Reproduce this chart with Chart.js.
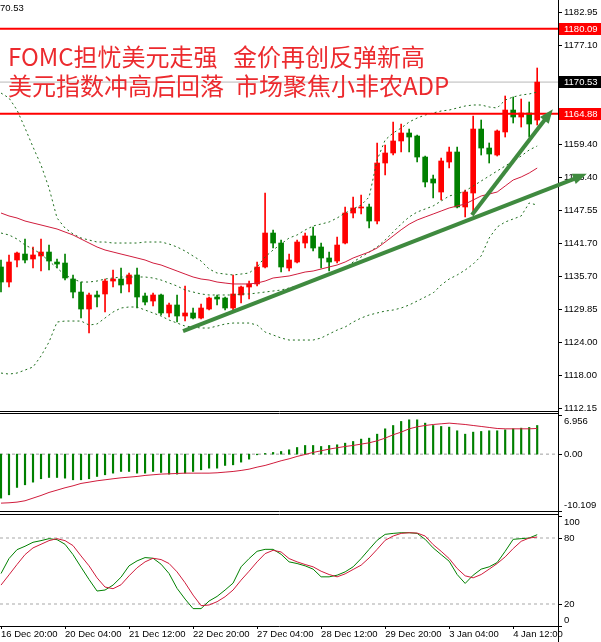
<!DOCTYPE html>
<html>
<head>
<meta charset="utf-8">
<script src="https://cdn.jsdelivr.net/npm/chart.js@4.4.1/dist/chart.umd.min.js"></script>
<style>
  html, body { margin: 0; padding: 0; background: #fff; }
  #wrap { position: relative; width: 601px; height: 642px; overflow: hidden; }
  canvas { position: absolute; left: 0; }
</style>
</head>
<body>
<div id="wrap">
  <canvas id="main" width="601" height="412" style="top:0"></canvas>
  <canvas id="macd" width="601" height="100" style="top:412px"></canvas>
  <canvas id="stoch" width="601" height="130" style="top:512px"></canvas>
</div>
<script>
// XAUUSD H4 candles, 16 Dec 20:00 .. 5 Jan 00:00
const openP = [1137.44,1134.75,1138.69,1139.76,1138.87,1139.41,1140.12,1138.33,1138.15,1135.29,
  1132.96,1129.92,1132.43,1132.61,1134.93,1135.29,1134.40,1136.01,1132.25,1131.35,
  1132.43,1129.21,1130.64,1128.67,1129.21,1128.31,1129.92,1132.07,1131.89,1130.10,
  1132.43,1133.86,1134.40,1137.44,1143.52,1141.73,1137.26,1138.33,1141.73,1142.99,
  1141.02,1139.05,1138.51,1141.73,1147.10,1148.00,1148.18,1145.67,1156.05,1157.84,
  1159.99,1161.42,1160.88,1157.12,1153.19,1150.86,1156.23,1158.02,1148.18,1150.68,
  1162.13,1158.73,1157.48,1161.60,1165.53,1164.28,1165.00,1163.74];
const highP = [1138.69,1139.59,1140.12,1142.45,1141.02,1142.45,1141.37,1138.87,1139.76,1136.01,
  1134.75,1132.78,1133.14,1135.29,1136.90,1137.26,1136.36,1137.26,1132.78,1132.78,
  1132.60,1131.00,1132.43,1134.04,1130.10,1130.82,1132.07,1132.43,1132.07,1136.01,
  1134.04,1134.93,1138.33,1150.68,1144.06,1142.27,1139.76,1142.27,1143.52,1144.60,
  1141.73,1140.12,1142.81,1148.18,1149.96,1150.32,1148.71,1159.63,1159.27,1163.39,
  1163.03,1162.13,1161.06,1157.30,1153.90,1156.94,1158.91,1158.91,1151.22,1164.46,
  1163.74,1159.63,1161.96,1168.04,1167.86,1167.50,1166.97,1173.05];
const lowP = [1132.96,1133.86,1137.44,1138.15,1137.26,1136.72,1136.90,1137.26,1135.11,1131.89,
  1128.31,1125.63,1130.28,1129.38,1133.86,1132.78,1132.96,1130.10,1130.64,1130.46,
  1128.85,1128.49,1127.59,1127.77,1128.13,1128.13,1129.74,1130.64,1129.74,1129.56,
  1131.00,1131.71,1134.04,1137.26,1140.84,1136.54,1136.72,1138.15,1140.84,1140.30,
  1137.26,1136.72,1138.15,1141.55,1146.21,1146.92,1144.42,1145.13,1153.90,1157.48,
  1158.02,1158.02,1156.23,1151.75,1149.79,1149.43,1155.15,1148.00,1146.39,1147.10,
  1157.48,1156.05,1157.30,1160.70,1163.21,1162.49,1160.70,1162.85];
const closeP = [1134.75,1138.33,1139.94,1138.69,1139.59,1140.12,1138.51,1137.97,1135.47,1132.96,
  1129.92,1132.43,1132.07,1134.93,1135.29,1134.22,1136.01,1132.07,1131.17,1132.43,
  1129.21,1130.64,1128.67,1129.21,1128.31,1130.10,1131.89,1131.71,1130.10,1132.61,
  1133.86,1134.40,1137.44,1143.52,1141.73,1137.44,1138.69,1141.91,1142.99,1140.84,
  1139.05,1138.33,1141.37,1147.10,1148.00,1148.18,1145.67,1156.05,1157.84,1159.99,
  1161.42,1160.70,1157.12,1152.65,1152.47,1156.41,1158.02,1148.18,1150.86,1162.13,
  1158.73,1157.66,1161.78,1165.53,1164.28,1165.00,1163.03,1170.53];

// Bollinger bands (dotted) and the red moving average
const bbUpper = [1168.57,1167.68,1165.53,1162.31,1158.92,1155.69,1151.58,1146.21,1144.42,1143.35,
  1142.63,1142.27,1141.91,1141.91,1141.73,1141.73,1141.73,1141.73,1141.91,1141.91,
  1141.91,1141.55,1141.02,1140.30,1139.41,1138.51,1137.08,1136.36,1136.18,1136.01,
  1136.18,1136.36,1137.44,1139.23,1140.48,1141.55,1142.63,1143.17,1144.06,1144.78,
  1145.13,1145.49,1146.21,1147.10,1147.82,1148.53,1149.96,1156.59,1160.17,1161.42,
  1162.31,1163.39,1164.10,1164.64,1165.00,1165.36,1165.53,1165.89,1166.25,1166.43,
  1166.43,1166.07,1165.89,1167.32,1167.86,1168.22,1168.40,1168.75];
const bbMiddle = [1143.52,1143.17,1142.45,1141.37,1140.66,1139.76,1138.51,1137.26,1136.01,1135.29,
  1134.75,1134.75,1134.93,1135.29,1135.47,1135.65,1135.65,1135.65,1135.65,1135.47,
  1135.11,1134.57,1134.04,1133.32,1132.96,1132.61,1132.43,1132.43,1132.43,1132.43,
  1132.61,1132.61,1132.78,1132.96,1133.14,1133.32,1133.68,1134.04,1134.57,1135.11,
  1135.47,1136.01,1136.54,1137.26,1138.33,1139.23,1140.12,1141.02,1142.27,1143.70,
  1145.13,1146.39,1147.28,1147.82,1148.36,1149.25,1150.15,1150.50,1151.04,1151.93,
  1152.83,1153.72,1154.62,1155.51,1156.41,1157.30,1158.38,1159.09];
const bbLower = [1118.46,1118.28,1118.46,1119.00,1119.54,1121.51,1124.01,1127.59,1127.77,1127.77,
  1127.77,1127.06,1127.24,1128.31,1129.38,1130.10,1130.28,1130.28,1129.74,1129.21,
  1128.67,1127.95,1127.41,1126.87,1126.70,1126.52,1126.52,1126.87,1127.24,1127.41,
  1127.41,1127.41,1127.06,1125.80,1125.27,1124.73,1124.37,1124.37,1124.37,1124.37,
  1124.73,1125.45,1126.16,1126.70,1127.59,1128.31,1128.85,1129.21,1129.56,1129.74,
  1130.10,1130.64,1131.35,1132.07,1132.78,1134.22,1135.29,1136.01,1136.90,1137.97,
  1139.41,1142.63,1144.60,1145.49,1146.03,1146.57,1148.89,1148.53];
const maRed = [1147.10,1146.57,1146.21,1145.67,1145.31,1144.96,1144.60,1144.24,1143.70,1143.17,
  1142.45,1141.73,1141.02,1140.48,1140.12,1139.76,1139.41,1139.05,1138.69,1138.15,
  1137.80,1137.26,1136.72,1136.18,1135.65,1135.29,1135.11,1134.75,1134.57,1134.40,
  1134.40,1134.40,1134.57,1134.93,1135.47,1135.65,1135.83,1136.18,1136.54,1136.72,
  1137.08,1137.44,1137.80,1138.33,1139.05,1139.59,1140.12,1140.84,1141.90,1143.00,
  1144.10,1145.10,1145.85,1146.39,1146.92,1147.46,1148.00,1148.36,1148.71,1149.43,
  1150.15,1150.50,1150.86,1151.93,1153.01,1153.55,1154.26,1155.15];

// MACD histogram + signal
const macdHist = [-7.82,-7.23,-5.92,-5.45,-4.98,-4.38,-4.15,-4.15,-4.27,-4.56,
  -4.56,-4.38,-3.97,-3.67,-3.38,-3.08,-3.08,-3.38,-3.38,-3.08,
  -3.26,-3.55,-3.55,-3.38,-3.08,-2.78,-2.49,-2.49,-2.01,-1.90,
  -1.42,-0.89,-0.12,0.12,0.30,0.47,0.77,1.18,1.54,1.54,
  1.36,1.54,1.66,1.95,2.25,2.67,2.84,3.55,4.50,5.09,
  5.81,6.10,6.10,5.51,5.09,4.92,4.80,4.15,3.55,3.91,
  4.03,4.15,4.15,4.32,4.50,4.62,4.74,5.09];
const macdSignal = [-8.71,-8.65,-8.53,-8.29,-7.82,-7.35,-6.81,-6.40,-5.98,-5.63,
  -5.21,-4.98,-4.74,-4.56,-4.38,-4.21,-4.09,-3.97,-3.79,-3.67,
  -3.55,-3.50,-3.44,-3.38,-3.38,-3.38,-3.38,-3.32,-3.20,-3.08,
  -2.90,-2.67,-2.31,-2.01,-1.60,-1.18,-0.83,-0.41,-0.06,0.30,
  0.59,0.89,1.13,1.36,1.54,1.78,2.01,2.37,2.84,3.44,
  3.91,4.50,4.86,5.09,5.27,5.39,5.51,5.39,5.27,5.09,
  4.92,4.74,4.56,4.50,4.50,4.50,4.50,4.56];

// Stochastic %K (green) and %D (red)
const stochK = [47.7,61.3,69.4,72.5,76.1,77.6,79.4,78.5,74.3,64.9,
  53.5,42.3,31.8,32.7,37.2,44.4,54.7,59.2,62.2,61.6,
  56.2,47.7,34.2,24.5,15.8,15.8,22.7,26.9,32.7,39.0,
  53.8,61.3,67.9,69.7,69.7,65.2,58.3,56.8,54.7,51.7,
  44.7,44.7,46.2,49.2,53.8,61.3,69.7,77.9,83.3,84.2,
  84.8,84.8,84.2,78.8,71.0,64.9,58.9,46.8,38.7,46.2,
  51.7,53.8,57.7,67.9,78.8,79.4,80.0,83.0];
const stochD = [37.2,46.5,55.9,64.9,71.0,74.3,77.6,79.4,77.6,73.1,
  63.7,54.7,43.8,35.4,33.9,37.5,45.6,52.9,58.3,61.6,
  60.4,56.8,49.2,39.3,28.1,18.5,19.1,22.1,26.6,32.7,
  41.7,49.8,58.3,65.8,68.8,67.3,61.3,58.3,55.9,53.8,
  49.8,46.8,44.7,47.4,51.4,55.3,61.9,69.7,77.9,81.8,
  84.2,84.8,84.5,81.8,74.0,67.9,61.3,52.3,45.6,43.8,
  46.8,51.7,56.8,62.8,70.4,77.0,80.0,80.9];

// axis labels
const timeLabels = ['16 Dec 20:00','20 Dec 04:00','21 Dec 12:00','22 Dec 20:00','27 Dec 04:00',
  '28 Dec 12:00','29 Dec 20:00','3 Jan 04:00','4 Jan 12:00'];
const timeLabelStep = 8;
const priceTicks = [1182.95,1177.10,1159.40,1153.40,1147.55,1141.70,1135.70,1129.85,1124.00,1118.00,1112.15];
const macdAxisValues = [6.956, 0, -10.109];
const macdAxisLabels = ['6.956', '0.00', '-10.109'];
const stochAxisValues = [100, 80, 20, 0];
const stochLevels = [80, 20];

// drawn objects
const levelLines = [1180.09, 1164.88];
const bidPrice = 1170.53;
// trend arrows: [startIndex, startPrice, endIndex, endPrice]
const trendArrows = [[22.75, 1125.98, 72.5, 1153.72], [58.84, 1146.74, 68.5, 1164.82]];
const headlineTop = ['FOMC担忧美元走强', '金价再创反弹新高'];
const headlineBottom = ['美元指数冲高后回落', '市场聚焦小非农ADP'];

const xMin = -0.125, xMax = 69.6;
const axisFont = { family: 'Liberation Sans', size: 9.5 };
const RED = '#ff0000', GREEN = '#008000', MA_RED = '#d01c3c', BAND = '#1e6e1e';

const pts = arr => arr.map((v, i) => ({ x: i, y: v }));
const flat = v => [{ x: xMin, y: v }, { x: xMax, y: v }];
const candleColor = closeP.map((c, i) => c >= openP[i] ? RED : GREEN);

// frame lines around each panel
const frame = {
  id: 'frame',
  afterDraw(chart, args, opts) {
    const { ctx, chartArea: a } = chart;
    ctx.save();
    ctx.strokeStyle = '#000';
    ctx.lineWidth = 1;
    ctx.beginPath();
    if (opts.top) { ctx.moveTo(0, a.top - 1.5); ctx.lineTo(a.right + 1, a.top - 1.5); }
    if (opts.bottom) { ctx.moveTo(0, a.bottom + 0.5); ctx.lineTo(a.right + 1, a.bottom + 0.5); }
    if (opts.right) { ctx.moveTo(a.right + 0.5, 0); ctx.lineTo(a.right + 0.5, chart.height); }
    ctx.stroke();
    ctx.restore();
  }
};

// y labels of the sub windows, kept inside the panel like the terminal does
const sideLabels = {
  id: 'sideLabels',
  afterDraw(chart, args, opts) {
    if (!opts.values) return;
    const { ctx, chartArea: a } = chart;
    const y = chart.scales.y;
    ctx.save();
    ctx.fillStyle = '#000';
    ctx.strokeStyle = '#000';
    ctx.font = '9.5px "Liberation Sans"';
    ctx.textBaseline = 'middle';
    opts.values.forEach((v, i) => {
      const py = Math.round(y.getPixelForValue(v)) + 0.5;
      ctx.beginPath();
      ctx.moveTo(a.right, py); ctx.lineTo(a.right + 4, py);
      ctx.stroke();
      const ty = Math.min(Math.max(py, a.top + 6), a.bottom - 6);
      ctx.fillText(opts.labels[i], a.right + 6, ty);
    });
    ctx.restore();
  }
};

// price tags, headline text and arrow heads on the main window
const mainDecor = {
  id: 'mainDecor',
  afterDatasetsDraw(chart) {
    const { ctx } = chart;
    ctx.save();
    // arrow heads
    chart.data.datasets.forEach((ds, i) => {
      if (!ds.arrow) return;
      const p = chart.getDatasetMeta(i).data;
      const s = p[p.length - 2], e = p[p.length - 1];
      const ang = Math.atan2(e.y - s.y, e.x - s.x);
      ctx.save();
      ctx.translate(e.x, e.y);
      ctx.rotate(ang);
      ctx.fillStyle = ds.borderColor;
      ctx.beginPath();
      ctx.moveTo(6, 0); ctx.lineTo(-8, -5.5); ctx.lineTo(-8, 5.5);
      ctx.closePath();
      ctx.fill();
      ctx.restore();
    });
    // headline
    ctx.font = '24px "Noto Sans CJK SC"';
    ctx.fillStyle = '#ec2a2e';
    ctx.textBaseline = 'middle';
    ctx.fillText(headlineTop[0], 8, 57);
    ctx.fillText(headlineTop[1], 233, 57);
    ctx.fillText(headlineBottom[0], 8, 86);
    ctx.fillText(headlineBottom[1], 235, 86);
    ctx.restore();
  },
  afterDraw(chart) {
    const { ctx, chartArea: a } = chart;
    const y = chart.scales.y;
    ctx.save();
    ctx.font = '9.5px "Liberation Sans"';
    ctx.textBaseline = 'middle';
    const tags = [[levelLines[0], RED], [bidPrice, '#000'], [levelLines[1], RED]];
    tags.forEach(([v, bg]) => {
      const py = Math.round(y.getPixelForValue(v));
      ctx.fillStyle = bg;
      ctx.fillRect(a.right + 1, py - 6, 42, 12);
      ctx.fillStyle = '#fff';
      ctx.fillText(v.toFixed(2), a.right + 6, py + 0.5);
    });
    ctx.fillStyle = '#000';
    ctx.fillText(bidPrice.toFixed(2).slice(2), 0, 8);
    ctx.restore();
  }
};

const hiddenX = { type: 'linear', min: xMin, max: xMax, offset: false, display: false, grid: { offset: false } };
const common = {
  responsive: false,
  animation: false,
  devicePixelRatio: 1,
  events: [],
  plugins: { legend: { display: false }, tooltip: { enabled: false } }
};

const lineDs = (data, color, extra) => Object.assign({
  type: 'line', data: data, borderColor: color, borderWidth: 1,
  pointRadius: 0, tension: 0, fill: false
}, extra || {});

// ---- main window ----
new Chart(document.getElementById('main'), {
  type: 'bar',
  data: {
    datasets: [
      ...trendArrows.map(t => lineDs([{ x: t[0], y: t[1] }, { x: t[2], y: t[3] }], '#3f8a3f',
        { borderWidth: 4, clip: false, arrow: true, order: 0 })),
      lineDs(flat(levelLines[0]), RED, { borderWidth: 2, order: 1 }),
      lineDs(flat(levelLines[1]), RED, { borderWidth: 2, order: 1 }),
      lineDs(pts(maRed), MA_RED, { order: 2 }),
      lineDs(pts(bbUpper), BAND, { borderDash: [2, 3], order: 3 }),
      lineDs(pts(bbMiddle), BAND, { borderDash: [2, 3], order: 3 }),
      lineDs(pts(bbLower), BAND, { borderDash: [2, 3], order: 3 }),
      {
        type: 'bar', order: 5, grouped: false, barThickness: 5, minBarLength: 1,
        data: openP.map((o, i) => ({ x: i, y: [o, closeP[i]] })),
        backgroundColor: candleColor, borderWidth: 0
      },
      {
        type: 'bar', order: 6, grouped: false, barThickness: 1,
        data: lowP.map((l, i) => ({ x: i, y: [l, highP[i]] })),
        backgroundColor: candleColor, borderWidth: 0
      },
      lineDs(flat(bidPrice), '#b8b8b8', { order: 7 })
    ]
  },
  options: Object.assign({}, common, {
    layout: { padding: { left: 0, right: 0, top: 0, bottom: 1 } },
    scales: {
      x: hiddenX,
      y: {
        position: 'right', min: 1111.67, max: 1185.22, bounds: 'data',
        afterBuildTicks: s => { s.ticks = priceTicks.map(v => ({ value: v })); },
        afterFit: s => { s.width = 43; s.paddingTop = 0; s.paddingBottom = 0; },
        ticks: { font: axisFont, color: '#000', padding: 2, callback: v => v.toFixed(2) },
        grid: { drawOnChartArea: false, color: '#000', tickLength: 4 },
        border: { color: '#000' }
      }
    },
    plugins: Object.assign({}, common.plugins, { frame: { bottom: true } })
  }),
  plugins: [frame, mainDecor]
});

// ---- MACD window ----
new Chart(document.getElementById('macd'), {
  type: 'bar',
  data: {
    datasets: [
      lineDs(pts(macdSignal), MA_RED, { order: 0 }),
      { type: 'bar', order: 1, grouped: false, barThickness: 1.5, data: pts(macdHist), backgroundColor: GREEN, borderWidth: 0 },
      lineDs(flat(0), '#a0a0a0', { borderDash: [3, 3], order: 2 })
    ]
  },
  options: Object.assign({}, common, {
    layout: { padding: { left: 0, right: 43, top: 3, bottom: 1 } },
    scales: { x: hiddenX, y: { display: false, min: -10.109, max: 6.956 } },
    plugins: Object.assign({}, common.plugins, {
      frame: { top: true, bottom: true, right: true },
      sideLabels: { values: macdAxisValues, labels: macdAxisLabels }
    })
  }),
  plugins: [frame, sideLabels]
});

// ---- Stochastic window ----
new Chart(document.getElementById('stoch'), {
  type: 'line',
  data: {
    datasets: [
      lineDs(pts(stochK), GREEN, { order: 1 }),
      lineDs(pts(stochD), MA_RED, { order: 0 }),
      ...stochLevels.map(v => lineDs(flat(v), '#a8a8a8', { borderDash: [3, 3], order: 2 }))
    ]
  },
  options: Object.assign({}, common, {
    layout: { padding: { left: 0, right: 43, top: 4, bottom: 0 } },
    scales: {
      x: {
        type: 'linear', min: xMin, max: xMax, offset: false, bounds: 'data',
        afterBuildTicks: s => { s.ticks = timeLabels.map((t, k) => ({ value: k * timeLabelStep })); },
        afterFit: s => { s.height = 16; s.paddingLeft = 0; s.paddingRight = 0; },
        ticks: { font: axisFont, color: '#000', align: 'start', padding: 0, maxRotation: 0, autoSkip: false,
                 callback: (v, i) => timeLabels[i] },
        grid: { drawOnChartArea: false, color: '#000', tickLength: 3 },
        border: { color: '#000' }
      },
      y: { display: false, min: 0, max: 100 }
    },
    plugins: Object.assign({}, common.plugins, {
      frame: { top: true, right: true },
      sideLabels: { values: stochAxisValues, labels: stochAxisValues.map(String) }
    })
  }),
  plugins: [frame, sideLabels]
});
</script>
</body>
</html>
